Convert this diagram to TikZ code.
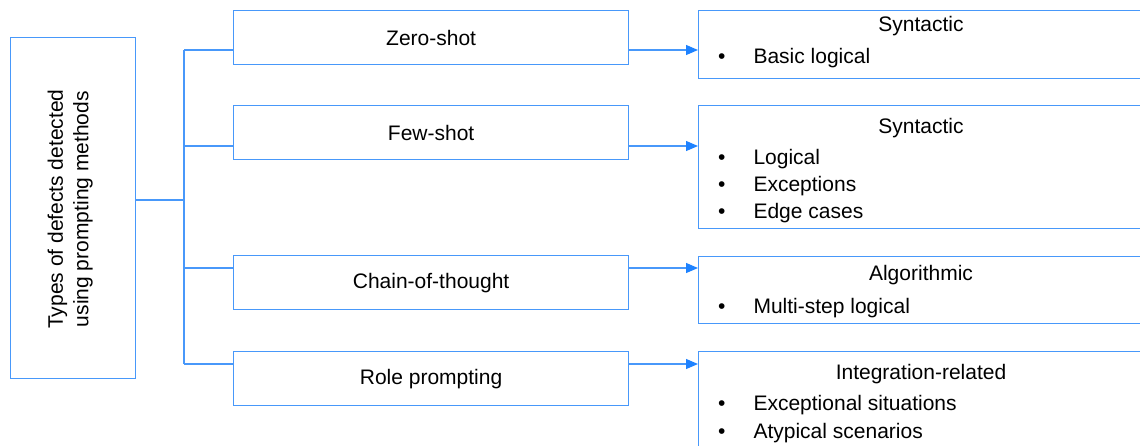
\documentclass[tikz,border=0pt]{standalone}
\usepackage{fontspec}
\setmainfont{Liberation Sans}
\usetikzlibrary{arrows.meta}
\definecolor{lineblue}{RGB}{72,152,250}
\definecolor{tipblue}{RGB}{30,130,255}
\tikzset{
  box/.style={draw=lineblue, line width=1.2pt, fill=white, inner sep=0pt},
  midbox/.style={box, minimum width=395pt, minimum height=54pt, anchor=north west},
  rbox/.style={box, minimum width=470pt, anchor=north west},
  conn/.style={draw=lineblue, line width=1.2pt},
  arr/.style={conn, -{Triangle[length=12pt, width=10pt, fill=tipblue, color=tipblue]}},
  lbl/.style={font=\fontsize{21}{25.5}\selectfont, inner sep=0pt, text=black},
  blt/.style={lbl, anchor=west},
}
\newcommand{\bitem}[1]{\textbullet\hspace{28pt}#1}
\begin{document}
\begin{tikzpicture}[x=1pt, y=-1pt]
\useasboundingbox (0,0) rectangle (1140,445);
\clip (0,0) rectangle (1140,445);
% left box
\node[box, minimum width=125pt, minimum height=341pt, anchor=north west] (lb) at (10,37) {};
\node[lbl, rotate=90, align=center] (lbt) at ([xshift=-3pt,yshift=-1pt]lb.center) {Types of defects detected\\using prompting methods};
% middle boxes
\node[midbox] (m1) at (233,10) {};
\node[midbox] (m2) at (233,105) {};
\node[midbox] (m3) at (233,255) {};
\node[midbox] (m4) at (233,351) {};
\node[lbl] (m1t) at (m1.center) {Zero-shot};
\node[lbl] (m2t) at (m2.center) {Few-shot};
\node[lbl] (m3t) at (m3.center) {Chain-of-thought};
\node[lbl] (m4t) at (m4.center) {Role prompting};
% right boxes
\node[rbox, minimum height=68pt] (r1) at (698,10) {};
\node[rbox, minimum height=123pt] (r2) at (698,105) {};
\node[rbox, minimum height=67pt] (r3) at (698,256) {};
\node[rbox, minimum height=120pt] (r4) at (698,351) {};
% right texts
\node[lbl] (r1h) at (921,26) {Syntactic};
\node[blt] (r1a) at (718,58) {\bitem{Basic logical}};
\node[lbl] (r2h) at (921,128) {Syntactic};
\node[blt] (r2a) at (718,159) {\bitem{Logical}};
\node[blt] (r2b) at (718,186) {\bitem{Exceptions}};
\node[blt] (r2c) at (718,213) {\bitem{Edge cases}};
\node[lbl] (r3h) at (921,275) {Algorithmic};
\node[blt] (r3a) at (718,308) {\bitem{Multi-step logical}};
\node[lbl] (r4h) at (921,374) {Integration-related};
\node[blt] (r4a) at (718,405) {\bitem{Exceptional situations}};
\node[blt] (r4b) at (718,433) {\bitem{Atypical scenarios}};
% tree connectors
\coordinate (j) at (184,200);
\coordinate (b1) at (184,50);
\coordinate (b2) at (184,146);
\coordinate (b3) at (184,268);
\coordinate (b4) at (184,364);
\draw[conn] (j -| lb.east) -- (j);
\draw[conn] (b1) -- (b4);
\draw[conn] (b1) -- (b1 -| m1.west);
\draw[conn] (b2) -- (b2 -| m2.west);
\draw[conn] (b3) -- (b3 -| m3.west);
\draw[conn] (b4) -- (b4 -| m4.west);
% arrows
\draw[arr] (b1 -| m1.east) -- (b1 -| r1.west);
\draw[arr] (b2 -| m2.east) -- (b2 -| r2.west);
\draw[arr] (b3 -| m3.east) -- (b3 -| r3.west);
\draw[arr] (b4 -| m4.east) -- (b4 -| r4.west);
\end{tikzpicture}
\end{document}
